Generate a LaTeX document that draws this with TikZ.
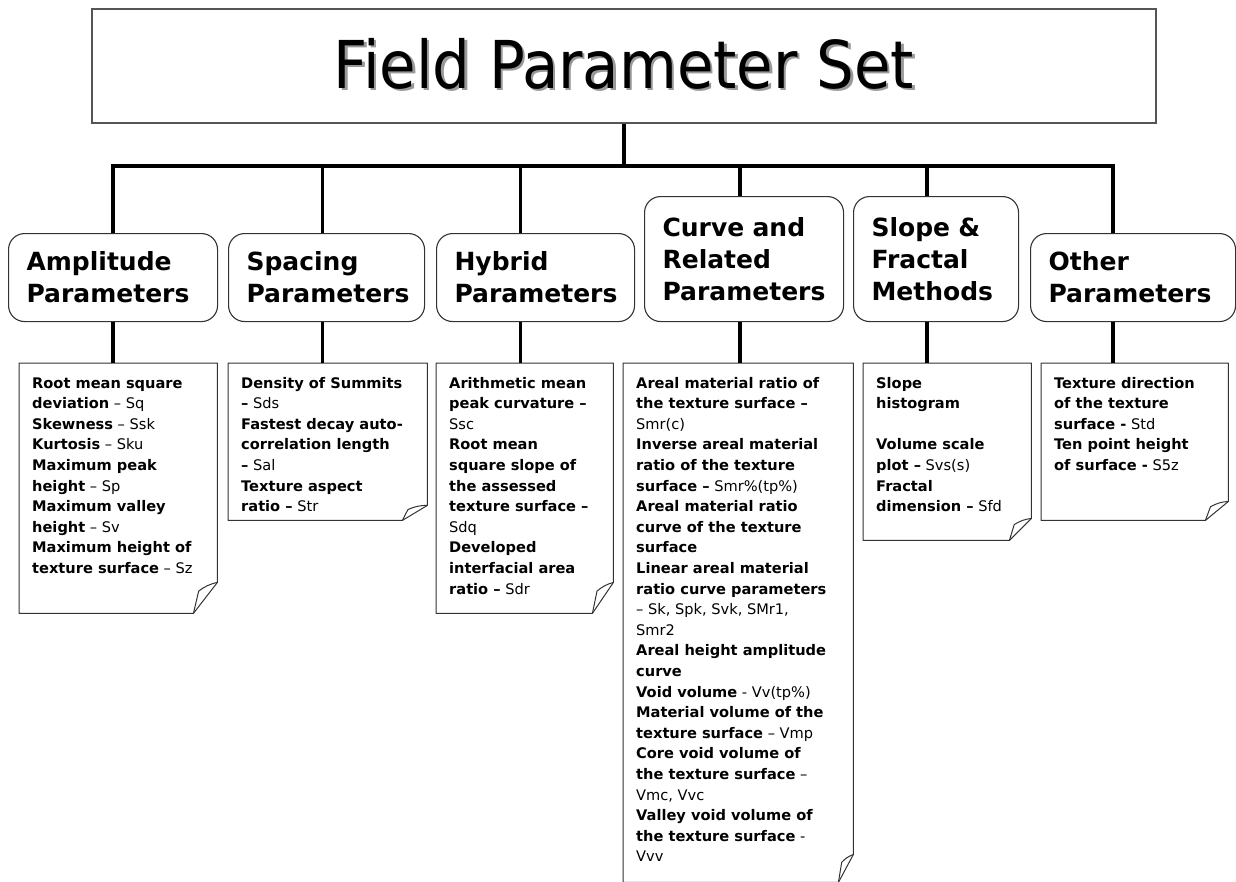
\documentclass[tikz,border=0pt]{standalone}
\usepackage{fontspec}
\setmainfont{DejaVu Sans}
\newfontfamily\titlefont{DejaVu Sans Condensed}

\definecolor{frame}{HTML}{333333}
\definecolor{titleframe}{HTML}{555555}

\newcommand\headfont{\fontsize{25}{32}\selectfont\bfseries\hyphenpenalty=10000}
\newcommand\notefont{\fontsize{14.6}{20.6}\selectfont}
\newcommand\shadowed[1]{\makebox[0pt][l]{\kern2.5pt\raisebox{-2.5pt}{\color{black!40}#1}}#1}
\newcommand\notebody[3]{\parbox[b][#2pt][t]{#1pt}{\vspace*{10.5pt}\hspace*{13pt}\begin{tabular}[t]{@{}l@{}}#3\end{tabular}}}

\begin{document}
\begin{tikzpicture}[x=1pt, y=-1pt,
    titlebox/.style={draw=titleframe, line width=2pt, minimum width=1064pt, minimum height=114pt,
                     font=\titlefont\fontsize{66}{72}\selectfont, text height=52pt, text depth=8pt},
    head/.style={draw=frame, line width=1.1pt, rounded corners=16pt, anchor=north west,
                 align=left, inner xsep=18pt, font=\headfont},
    note/.style={inner sep=0pt, anchor=north west, font=\notefont},
    noteline/.style={draw=frame, line width=1pt, line join=round},
    wire/.style={line width=3.5pt, black}]

   \useasboundingbox (0,0) rectangle (1236,881);

   \node [titlebox] (title) at (624,66) {\shadowed{Field Parameter Set}};

   % group headings
   \foreach \n/\x/\y/\w/\h/\tw/\t in {amp/8/233/209/88/173/{Amplitude\\Parameters},
        spc/228/233/196/88/160/{Spacing\\Parameters}, hyb/436/233/198/88/162/{Hybrid\\Parameters},
        crv/644/196/199/125/163/{Curve and\\Related\\Parameters},
        slp/853/196/165/125/129/{Slope \&\\Fractal\\Methods},
        oth/1030/233/205/88/169/{Other\\Parameters}}
     \node [head, minimum width=\w pt, minimum height=\h pt, text width=\tw pt]
        (\n) at (\x,\y) {\t};

   % parameter lists
   \node [note] (amp note) at (19,363) {\notebody{198}{250}{%
      \textbf{Root mean square}\\
      \textbf{deviation} – Sq\\
      \textbf{Skewness} – Ssk\\
      \textbf{Kurtosis} – Sku\\
      \textbf{Maximum peak}\\
      \textbf{height} – Sp\\
      \textbf{Maximum valley}\\
      \textbf{height} – Sv\\
      \textbf{Maximum height of}\\
      \textbf{texture surface} – Sz}};
   \node [note] (spc note) at (228,363) {\notebody{199}{157}{%
      \textbf{Density of Summits}\\
      \textbf{–} Sds\\
      \textbf{Fastest decay auto-}\\
      \textbf{correlation length}\\
      \textbf{–} Sal\\
      \textbf{Texture aspect}\\
      \textbf{ratio –} Str}};
   \node [note] (hyb note) at (436,363) {\notebody{177}{250}{%
      \textbf{Arithmetic mean}\\
      \textbf{peak curvature –}\\
      Ssc\\
      \textbf{Root mean}\\
      \textbf{square slope of}\\
      \textbf{the assessed}\\
      \textbf{texture surface –}\\
      Sdq\\
      \textbf{Developed}\\
      \textbf{interfacial area}\\
      \textbf{ratio –} Sdr}};
   \node [note] (crv note) at (623,363) {\notebody{230}{519}{%
      \textbf{Areal material ratio of}\\
      \textbf{the texture surface –}\\
      Smr(c)\\
      \textbf{Inverse areal material}\\
      \textbf{ratio of the texture}\\
      \textbf{surface –} Smr\%(tp\%)\\
      \textbf{Areal material ratio}\\
      \textbf{curve of the texture}\\
      \textbf{surface}\\
      \textbf{Linear areal material}\\
      \textbf{ratio curve parameters}\\
      – Sk, Spk, Svk, SMr1,\\
      Smr2\\
      \textbf{Areal height amplitude}\\
      \textbf{curve}\\
      \textbf{Void volume} - Vv(tp\%)\\
      \textbf{Material volume of the}\\
      \textbf{texture surface} – Vmp\\
      \textbf{Core void volume of}\\
      \textbf{the texture surface} –\\
      Vmc, Vvc\\
      \textbf{Valley void volume of}\\
      \textbf{the texture surface} -\\
      Vvv}};
   \node [note] (slp note) at (863,363) {\notebody{168}{177}{%
      \textbf{Slope}\\
      \textbf{histogram}\\
      \\
      \textbf{Volume scale}\\
      \textbf{plot –} Svs(s)\\
      \textbf{Fractal}\\
      \textbf{dimension –} Sfd}};
   \node [note] (oth note) at (1041,363) {\notebody{187}{157}{%
      \textbf{Texture direction}\\
      \textbf{of the texture}\\
      \textbf{surface -} Std\\
      \textbf{Ten point height}\\
      \textbf{of surface -} S5z}};

   % folded sheets
   \foreach \n/\fx/\fy in {amp/24/31, spc/25/15, hyb/21/31, crv/15/28, slp/22/22, oth/23/19} {
     \draw [noteline] (\n\space note.north west) -- (\n\space note.north east)
        -- ([yshift=\fy pt]\n\space note.south east) coordinate (r)
        -- ([xshift=-\fx pt]\n\space note.south east) coordinate (b)
        -- (\n\space note.south west) -- cycle;
     \draw [noteline] (b) -- ([xshift={-0.78*\fx pt}, yshift={0.72*\fy pt}]\n\space note.south east)
        to[bend left=12] (r);
   }

   % tree
   \coordinate (bus) at (624,166);
   \draw [wire] (title) -- (bus);
   \draw [wire] (amp.north) |- (bus) -| ([xshift=-20pt]oth.north);
   \foreach \n/\d in {spc/-4, hyb/-15, crv/-4, slp/-9}
     \draw [wire] ([xshift=\d pt]\n.north) -- ([xshift=\d pt]\n.north |- bus);
   \foreach \n/\d in {amp/0, spc/-4, hyb/-15, crv/-4, slp/-9, oth/-20}
     \draw [wire] ([xshift=\d pt]\n.south) -- ([xshift=\d pt]\n.south |- \n\space note.north);

\end{tikzpicture}
\end{document}
